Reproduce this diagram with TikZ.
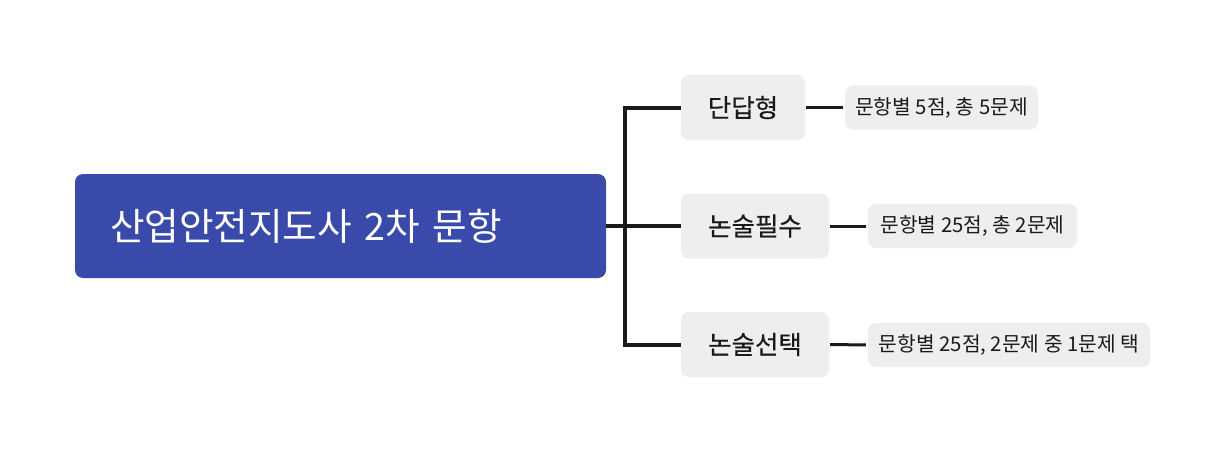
\documentclass[tikz,border=0pt]{standalone}
\usepackage{fontspec}
\setmainfont{Noto Sans CJK KR}
\newfontfamily\medfont[FakeBold=0.4]{Noto Sans CJK KR}
\definecolor{mainblue}{HTML}{3A4AAB}
\definecolor{boxgray}{HTML}{EEEEEE}
\definecolor{linecol}{HTML}{1A1A1A}
\begin{document}
\begin{tikzpicture}[x=1pt,y=-1pt,
  rootbox/.style={draw=none,fill=mainblue,rounded corners=8pt,text=white,inner xsep=35pt,inner ysep=0pt,align=left,font=\fontsize{37.6}{42}\selectfont},
  childbox/.style={draw=none,fill=boxgray,rounded corners=8pt,text=linecol,inner sep=0pt,minimum height=65pt,font=\medfont\fontsize{25.5}{29}\selectfont},
  leafbox/.style={draw=none,fill=boxgray,rounded corners=8pt,text=linecol,inner sep=0pt,minimum height=44pt,font=\fontsize{20.3}{24}\selectfont},
  trunkline/.style={draw=linecol,line width=4pt},
  leafline/.style={draw=linecol,line width=3pt,shorten <=1pt,shorten >=2pt}]
\useasboundingbox (0,0) rectangle (1224,452);
\fill[white] (0,0) rectangle (1224,452);
\node[rootbox,text width=461pt,minimum height=104pt] (root) at (340.5,226) {산업안전지도사 2차 문항};
\node[childbox,minimum width=124pt] (c1) at (743,107.5) {단답형};
\node[childbox,minimum width=148pt] (c2) at (755,226) {논술필수};
\node[childbox,minimum width=148pt] (c3) at (755,344.5) {논술선택};
\node[leafbox,minimum width=193pt] (l1) at (941.5,107.5) {문항별 5점, 총 5문제};
\node[leafbox,minimum width=209pt] (l2) at (972.5,226) {문항별 25점, 총 2문제};
\node[leafbox,minimum width=282pt] (l3) at (1009,345) {문항별 25점, 2문제 중 1문제 택};
\coordinate (j) at (625,226);
\draw[trunkline] (root.east) -- (c2.west);
\draw[trunkline] (c1.west) -| (j) |- (c3.west);
\draw[leafline] (c1.east) -- (l1.west);
\draw[leafline] (c2.east) -- (l2.west);
\draw[leafline] (c3.east) -- (l3.west);
\end{tikzpicture}
\end{document}
